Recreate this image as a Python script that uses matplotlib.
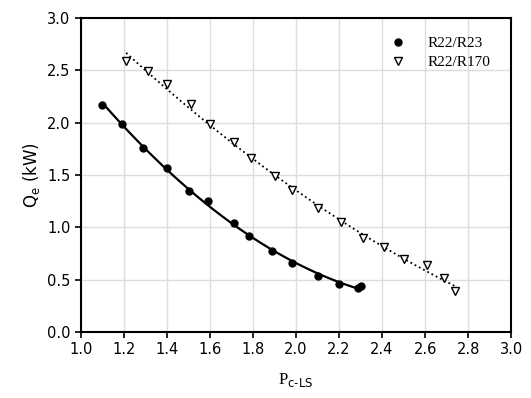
import numpy as np
import matplotlib
matplotlib.use('Agg')
import matplotlib.pyplot as plt

# R22/R23 measurements
r23_x = [1.10, 1.19, 1.29, 1.40, 1.50, 1.59, 1.71, 1.78, 1.89, 1.98, 2.10, 2.20, 2.29, 2.30]
r23_y = [2.17, 1.99, 1.76, 1.57, 1.35, 1.25, 1.04, 0.92, 0.77, 0.66, 0.53, 0.46, 0.42, 0.44]

# R22/R170 measurements
r170_x = [1.21, 1.31, 1.40, 1.51, 1.60, 1.71, 1.79, 1.90, 1.98, 2.10, 2.21,
          2.31, 2.41, 2.50, 2.61, 2.69, 2.74]
r170_y = [2.59, 2.49, 2.37, 2.18, 1.99, 1.81, 1.66, 1.49, 1.36, 1.18, 1.05,
          0.90, 0.81, 0.70, 0.64, 0.52, 0.39]

x_ticks = [1.0, 1.2, 1.4, 1.6, 1.8, 2.0, 2.2, 2.4, 2.6, 2.8, 3.0]
y_ticks = [0.0, 0.5, 1.0, 1.5, 2.0, 2.5, 3.0]

fig = plt.figure(figsize=(5.31, 3.98), dpi=100)
ax = fig.add_axes([0.1525, 0.166, 0.81, 0.789])

# fitted trend lines
c23 = np.polyfit(r23_x, r23_y, 2)
xs = np.linspace(min(r23_x), max(r23_x), 100)
ax.plot(xs, np.polyval(c23, xs), color='black', lw=1.6, zorder=2)

c170 = np.polyfit(r170_x, r170_y, 2)
xs = np.linspace(min(r170_x), max(r170_x), 100)
ax.plot(xs, np.polyval(c170, xs), color='black', lw=1.3, ls=':', zorder=2)

ax.plot(r23_x, r23_y, 'o', color='black', ms=5, ls='none', label='R22/R23', zorder=3)
ax.plot(r170_x, r170_y, 'v', mfc='white', mec='black', mew=1.0, ms=6,
        ls='none', label='R22/R170', zorder=3)

ax.set_xlim(1.0, 3.0)
ax.set_ylim(0.0, 3.0)
ax.set_xticks(x_ticks)
ax.set_yticks(y_ticks)
ax.set_xticklabels([f'{v:.1f}' for v in x_ticks])
ax.set_yticklabels([f'{v:.1f}' for v in y_ticks])
ax.grid(True, color='#dddddd', lw=1.0)
ax.set_axisbelow(True)
ax.tick_params(direction='out', length=4, width=1.2, labelsize=10.5)
for s in ax.spines.values():
    s.set_linewidth(1.5)

ax.set_xlabel(r'P$_{\text{c-LS}}$', family='Liberation Serif', fontsize=12, labelpad=10)
ax.set_ylabel(r'Q$_{\mathrm{e}}$ (kW)', family='DejaVu Sans', fontsize=12)

leg = ax.legend(loc='upper right', bbox_to_anchor=(0.985, 0.985), frameon=False,
                prop={'family': 'Liberation Serif', 'size': 11},
                handletextpad=1.2, handlelength=1.5, labelspacing=0.35)

fig.savefig('out.png', dpi=100)
